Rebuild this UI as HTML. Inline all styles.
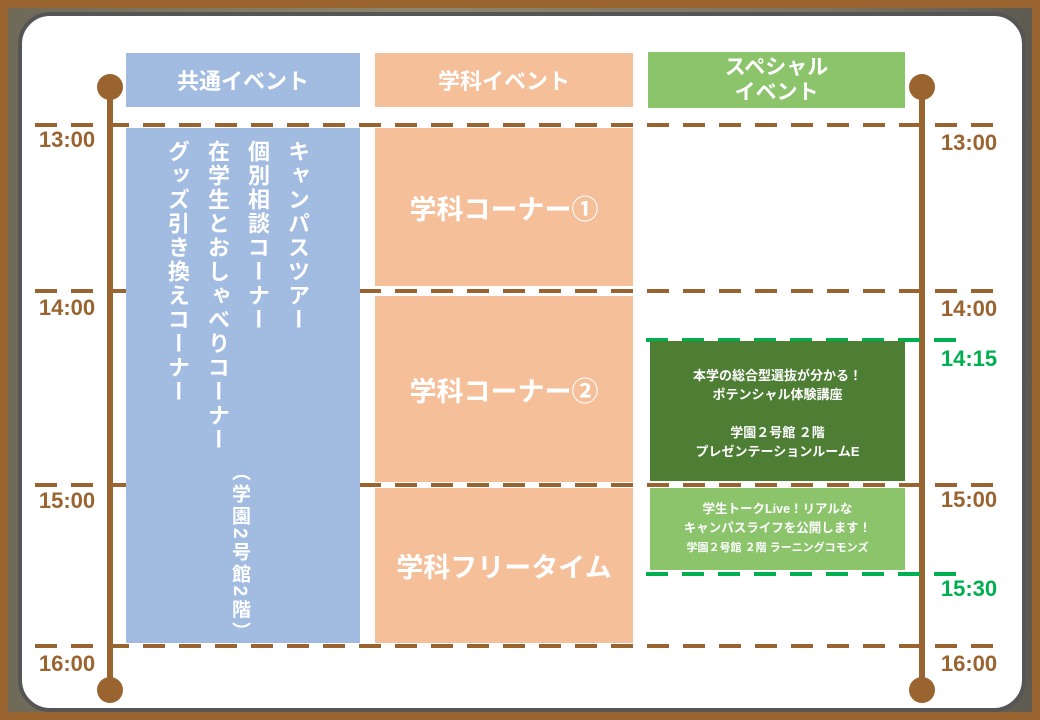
<!DOCTYPE html>
<html><head><meta charset="utf-8"><style>
*{margin:0;padding:0;box-sizing:border-box}
body{width:1040px;height:720px;overflow:hidden;background:#9a6430;position:relative;font-family:"Liberation Sans","Noto Sans CJK JP",sans-serif;font-weight:bold}
.a{position:absolute}
.photo{left:8px;top:8px;width:1024px;height:704px;background:linear-gradient(90deg,#6f6a58,#8d8570 40%,#7a7262 80%,#5d5a50)}
.panel{left:18px;top:12px;width:1008px;height:700px;background:#fff;border:4px solid #555;border-radius:32px}
.box{display:flex;align-items:center;justify-content:center;color:#fff;text-align:center}
.tb{color:#fff;text-align:center}
.dash{height:4px;background:repeating-linear-gradient(90deg,#9a6430 0 22px,transparent 22px 36px)}
.gd{height:4px;background:repeating-linear-gradient(90deg,#00b050 0 22px,transparent 22px 36px)}
.t{font-size:22px;color:#9a6430;width:70px;text-align:center}
.g{color:#00b050}
.v{writing-mode:vertical-rl;color:#fff;font-size:22px;line-height:1;letter-spacing:2px}
.circ{width:26px;height:26px;border-radius:50%;background:#9a6430}
</style></head><body>
<div class="a photo"></div>
<div class="a panel"></div>

<div class="a" style="left:107px;top:86px;width:6px;height:604px;background:#9a6430"></div>
<div class="a circ" style="left:97px;top:74px"></div>
<div class="a circ" style="left:97px;top:677px"></div>
<div class="a" style="left:919px;top:86px;width:6px;height:604px;background:#9a6430"></div>
<div class="a circ" style="left:909px;top:74px"></div>
<div class="a circ" style="left:909px;top:677px"></div>

<div class="a dash" style="left:35px;top:123px;width:970px"></div>
<div class="a dash" style="left:35px;top:289px;width:970px"></div>
<div class="a dash" style="left:35px;top:483px;width:970px"></div>
<div class="a dash" style="left:35px;top:644px;width:970px"></div>
<div class="a gd" style="left:646px;top:338px;width:310px"></div>
<div class="a gd" style="left:646px;top:572px;width:310px"></div>

<div class="a box" style="left:126px;top:53px;width:234px;height:54px;background:#a2bbe0;font-size:22px">共通イベント</div>
<div class="a box" style="left:375px;top:53px;width:258px;height:54px;background:#f5bf9a;font-size:22px">学科イベント</div>
<div class="a box" style="left:648px;top:52px;width:257px;height:56px;background:#8cc46c;font-size:21px;line-height:1.2">スペシャル<br>イベント</div>

<div class="a" style="left:126px;top:128px;width:234px;height:515px;background:#a2bbe0"></div>
<div class="a v" style="left:286px;top:140px">キャンパスツアー</div>
<div class="a v" style="left:246px;top:140px">個別相談コーナー</div>
<div class="a v" style="left:206px;top:140px">在学生とおしゃべりコーナー</div>
<div class="a v" style="left:166px;top:140px">グッズ引き換えコーナー</div>
<div class="a v" style="left:230px;top:462px;font-size:19px;letter-spacing:3px">（学園2号館2階）</div>

<div class="a box" style="left:375px;top:128px;width:258px;height:158px;background:#f5bf9a;font-size:27px">学科コーナー①</div>
<div class="a box" style="left:375px;top:296px;width:258px;height:186px;background:#f5bf9a;font-size:27px">学科コーナー②</div>
<div class="a box" style="left:375px;top:488px;width:258px;height:155px;background:#f5bf9a;font-size:27px">学科フリータイム</div>

<div class="a tb" style="left:650px;top:341px;width:255px;height:140px;background:#4e7d34;font-size:13px;line-height:19px;padding-top:25px">本学の総合型選抜が分かる！<br>ポテンシャル体験講座<br><br>学園２号館 ２階<br>プレゼンテーションルームE</div>
<div class="a tb" style="left:650px;top:488px;width:255px;height:82px;background:#8cc46c;font-size:12.5px;line-height:19px;padding-top:12px">学生トークLive！リアルな<br>キャンパスライフを公開します！<br><span style="font-size:11px">学園２号館 ２階 ラーニングコモンズ</span></div>

<div class="a t" style="left:32px;top:127px">13:00</div>
<div class="a t" style="left:32px;top:295px">14:00</div>
<div class="a t" style="left:32px;top:488px">15:00</div>
<div class="a t" style="left:32px;top:651px">16:00</div>
<div class="a t" style="left:934px;top:130px">13:00</div>
<div class="a t" style="left:934px;top:296px">14:00</div>
<div class="a t" style="left:934px;top:487px">15:00</div>
<div class="a t" style="left:934px;top:651px">16:00</div>
<div class="a t g" style="left:934px;top:346px">14:15</div>
<div class="a t g" style="left:934px;top:576px">15:30</div>
</body></html>
